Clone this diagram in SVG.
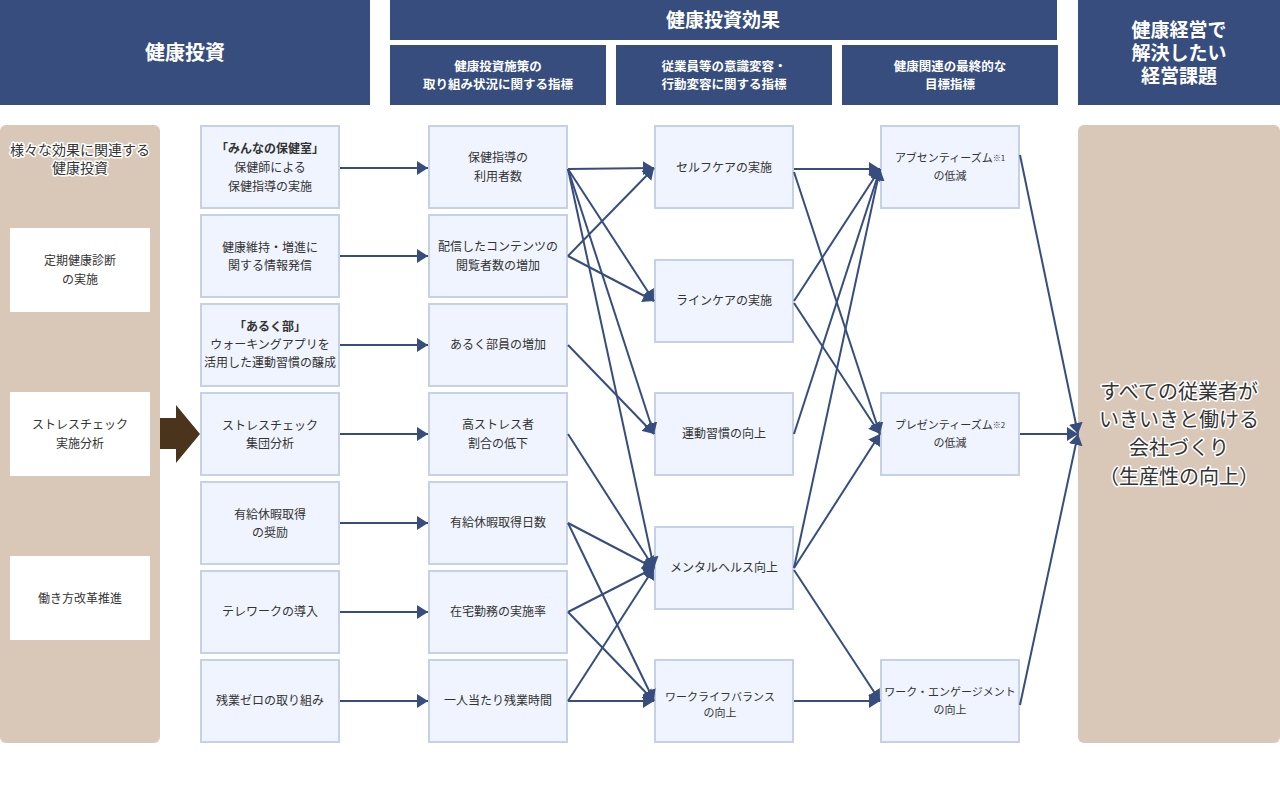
<svg xmlns="http://www.w3.org/2000/svg" width="1280" height="789" viewBox="0 0 1280 789">
<defs>
<style>
.hd{fill:#364d7e}
.ht{fill:#fff;font-family:"Noto Sans CJK JP","Noto Sans",sans-serif;font-weight:bold;text-anchor:middle}
.tan{fill:#d9c8b8}
.wb{fill:#fff}
.nd{fill:#eff4fe;stroke:#c6d1e8;stroke-width:2}
.t{fill:#333;font-family:"Noto Sans CJK JP","Noto Sans",sans-serif;font-size:12px;text-anchor:middle}
.s{font-size:11px}
.b{font-weight:bold}
.halo{fill:#333;stroke:#fff;stroke-width:3;paint-order:stroke;stroke-linejoin:round;font-family:"Noto Sans CJK JP","Noto Sans",sans-serif;text-anchor:middle}
.cn line{stroke:#364d7e;stroke-width:2;marker-end:url(#ah)}
.sm{font-size:8px}
</style>
<marker id="ah" markerUnits="userSpaceOnUse" markerWidth="12" markerHeight="14" refX="11" refY="7" orient="auto" viewBox="0 0 12 14">
<path d="M0,0 L11,7 L0,14 z" fill="#364d7e"/>
</marker>
</defs>
<rect width="1280" height="789" fill="#fff"/>

<g id="header-invest">
<rect class="hd" x="0" y="0" width="370" height="105"/>
<text class="ht" x="185" y="60" font-size="20">健康投資</text>
</g>
<g id="header-effect">
<rect class="hd" x="390" y="0" width="667" height="40"/>
<text class="ht" x="723" y="27" font-size="19">健康投資効果</text>
</g>
<g id="header-sub1">
<rect class="hd" x="390" y="45" width="216" height="60"/>
<text class="ht" x="498" y="71" font-size="12.5">健康投資施策の</text>
<text class="ht" x="498" y="89" font-size="12.5">取り組み状況に関する指標</text>
</g>
<g id="header-sub2">
<rect class="hd" x="616" y="45" width="216" height="60"/>
<text class="ht" x="724" y="71" font-size="12.5">従業員等の意識変容・</text>
<text class="ht" x="724" y="89" font-size="12.5">行動変容に関する指標</text>
</g>
<g id="header-sub3">
<rect class="hd" x="842" y="45" width="216" height="60"/>
<text class="ht" x="950" y="71" font-size="12.5">健康関連の最終的な</text>
<text class="ht" x="950" y="89" font-size="12.5">目標指標</text>
</g>
<g id="header-issue">
<rect class="hd" x="1078" y="0" width="202" height="105"/>
<text class="ht" font-size="19"><tspan x="1179" y="37">健康経営で</tspan><tspan x="1179" y="60">解決したい</tspan><tspan x="1179" y="83">経営課題</tspan></text>
</g>

<g id="left-panel">
<rect class="tan" x="0" y="125" width="160" height="618" rx="6"/>
<text class="halo" x="80" y="155" font-size="14">様々な効果に関連する</text>
<text class="halo" x="80" y="173" font-size="14">健康投資</text>
</g>
<g id="left-checkup">
<rect class="wb" x="10" y="228" width="140" height="84"/>
<text class="t" x="80" y="265">定期健康診断</text>
<text class="t" x="80" y="284">の実施</text>
</g>
<g id="left-stress">
<rect class="wb" x="10" y="392" width="140" height="84"/>
<text class="t" x="80" y="429">ストレスチェック</text>
<text class="t" x="80" y="448">実施分析</text>
</g>
<g id="left-work">
<rect class="wb" x="10" y="556" width="140" height="84"/>
<text class="t" x="80" y="603">働き方改革推進</text>
</g>
<g id="big-arrow">
<path d="M160,418 L176,418 L176,405 L200,434 L176,463 L176,449 L160,449 z" fill="#4b341c"/>
</g>

<!-- column 1 -->
<g id="c1-1">
<rect class="nd" x="201" y="126" width="138" height="82"/>
<text class="t b" x="270" y="153">「みんなの保健室」</text>
<text class="t" x="270" y="172">保健師による</text>
<text class="t" x="270" y="191">保健指導の実施</text>
</g>
<g id="c1-2">
<rect class="nd" x="201" y="215" width="138" height="82"/>
<text class="t" x="270" y="252">健康維持・増進に</text>
<text class="t" x="270" y="270">関する情報発信</text>
</g>
<g id="c1-3">
<rect class="nd" x="201" y="304" width="138" height="82"/>
<text class="t b" x="270" y="331">「あるく部」</text>
<text class="t" x="270" y="349">ウォーキングアプリを</text>
<text class="t" x="270" y="367" font-size="11.6">活用した運動習慣の醸成</text>
</g>
<g id="c1-4">
<rect class="nd" x="201" y="393" width="138" height="82"/>
<text class="t" x="270" y="430">ストレスチェック</text>
<text class="t" x="270" y="448">集団分析</text>
</g>
<g id="c1-5">
<rect class="nd" x="201" y="482" width="138" height="82"/>
<text class="t" x="270" y="519">有給休暇取得</text>
<text class="t" x="270" y="537">の奨励</text>
</g>
<g id="c1-6">
<rect class="nd" x="201" y="571" width="138" height="82"/>
<text class="t" x="270" y="616">テレワークの導入</text>
</g>
<g id="c1-7">
<rect class="nd" x="201" y="660" width="138" height="82"/>
<text class="t" x="270" y="705">残業ゼロの取り組み</text>
</g>

<!-- column 2 -->
<g id="c2-1">
<rect class="nd" x="429" y="126" width="138" height="82"/>
<text class="t" x="498" y="162">保健指導の</text>
<text class="t" x="498" y="181">利用者数</text>
</g>
<g id="c2-2">
<rect class="nd" x="429" y="215" width="138" height="82"/>
<text class="t" x="498" y="251">配信したコンテンツの</text>
<text class="t" x="498" y="270">閲覧者数の増加</text>
</g>
<g id="c2-3">
<rect class="nd" x="429" y="304" width="138" height="82"/>
<text class="t" x="498" y="349">あるく部員の増加</text>
</g>
<g id="c2-4">
<rect class="nd" x="429" y="393" width="138" height="82"/>
<text class="t" x="498" y="429">高ストレス者</text>
<text class="t" x="498" y="448">割合の低下</text>
</g>
<g id="c2-5">
<rect class="nd" x="429" y="482" width="138" height="82"/>
<text class="t" x="498" y="527">有給休暇取得日数</text>
</g>
<g id="c2-6">
<rect class="nd" x="429" y="571" width="138" height="82"/>
<text class="t" x="498" y="616">在宅勤務の実施率</text>
</g>
<g id="c2-7">
<rect class="nd" x="429" y="660" width="138" height="82"/>
<text class="t" x="498" y="705">一人当たり残業時間</text>
</g>

<!-- column 3 -->
<g id="c3-1">
<rect class="nd" x="655" y="126" width="138" height="82"/>
<text class="t" x="724" y="172">セルフケアの実施</text>
</g>
<g id="c3-2">
<rect class="nd" x="655" y="260" width="138" height="82"/>
<text class="t" x="724" y="305">ラインケアの実施</text>
</g>
<g id="c3-3">
<rect class="nd" x="655" y="393" width="138" height="82"/>
<text class="t" x="724" y="438">運動習慣の向上</text>
</g>
<g id="c3-4">
<rect class="nd" x="655" y="527" width="138" height="82"/>
<text class="t" x="724" y="572">メンタルヘルス向上</text>
</g>
<g id="c3-5">
<rect class="nd" x="655" y="660" width="138" height="82"/>
<text class="t s" x="720" y="701">ワークライフバランス</text>
<text class="t s" x="720" y="717">の向上</text>
</g>

<!-- column 4 -->
<g id="c4-1">
<rect class="nd" x="881" y="126" width="138" height="82"/>
<text class="t s" x="950" y="162">アブセンティーズム<tspan class="sm" dy="-1">※1</tspan></text>
<text class="t s" x="950" y="180">の低減</text>
</g>
<g id="c4-2">
<rect class="nd" x="881" y="393" width="138" height="82"/>
<text class="t s" x="950" y="429">プレゼンティーズム<tspan class="sm" dy="-1">※2</tspan></text>
<text class="t s" x="950" y="447">の低減</text>
</g>
<g id="c4-3">
<rect class="nd" x="881" y="660" width="138" height="82"/>
<text class="t s" x="950" y="696">ワーク・エンゲージメント</text>
<text class="t s" x="950" y="714">の向上</text>
</g>

<!-- final -->
<g id="final">
<rect class="tan" x="1078" y="125" width="202" height="618" rx="6"/>
<text class="halo" x="1179" y="399" font-size="20">すべての従業者が</text>
<text class="halo" x="1179" y="427" font-size="20">いきいきと働ける</text>
<text class="halo" x="1179" y="455" font-size="20">会社づくり</text>
<text class="halo" x="1179" y="484" font-size="20">（生産性の向上）</text>
</g>

<g id="connectors" class="cn">
<line x1="340" y1="168" x2="428" y2="168"/>
<line x1="340" y1="256" x2="428" y2="256"/>
<line x1="340" y1="345" x2="428" y2="345"/>
<line x1="340" y1="434" x2="428" y2="434"/>
<line x1="340" y1="523" x2="428" y2="523"/>
<line x1="340" y1="612" x2="428" y2="612"/>
<line x1="340" y1="701" x2="428" y2="701"/>

<line x1="568" y1="169" x2="654" y2="168"/>
<line x1="568" y1="169" x2="654" y2="301"/>
<line x1="568" y1="169" x2="654" y2="434"/>
<line x1="568" y1="169" x2="654" y2="568"/>
<line x1="568" y1="256" x2="654" y2="168"/>
<line x1="568" y1="256" x2="654" y2="301"/>
<line x1="568" y1="345" x2="654" y2="434"/>
<line x1="568" y1="434" x2="654" y2="568"/>
<line x1="568" y1="523" x2="654" y2="568"/>
<line x1="568" y1="523" x2="654" y2="701"/>
<line x1="568" y1="612" x2="654" y2="568"/>
<line x1="568" y1="612" x2="654" y2="701"/>
<line x1="568" y1="701" x2="654" y2="568"/>
<line x1="568" y1="701" x2="654" y2="701"/>

<line x1="794" y1="169" x2="880" y2="169"/>
<line x1="794" y1="172" x2="880" y2="434"/>
<line x1="794" y1="301" x2="880" y2="169"/>
<line x1="794" y1="303" x2="880" y2="434"/>
<line x1="794" y1="434" x2="880" y2="169"/>
<line x1="794" y1="568" x2="880" y2="169"/>
<line x1="794" y1="568" x2="880" y2="434"/>
<line x1="794" y1="570" x2="880" y2="701"/>
<line x1="794" y1="701" x2="880" y2="701"/>

<line x1="1020" y1="155" x2="1078" y2="434"/>
<line x1="1020" y1="434" x2="1078" y2="434"/>
<line x1="1020" y1="705" x2="1078" y2="434"/>
</g>
</svg>
